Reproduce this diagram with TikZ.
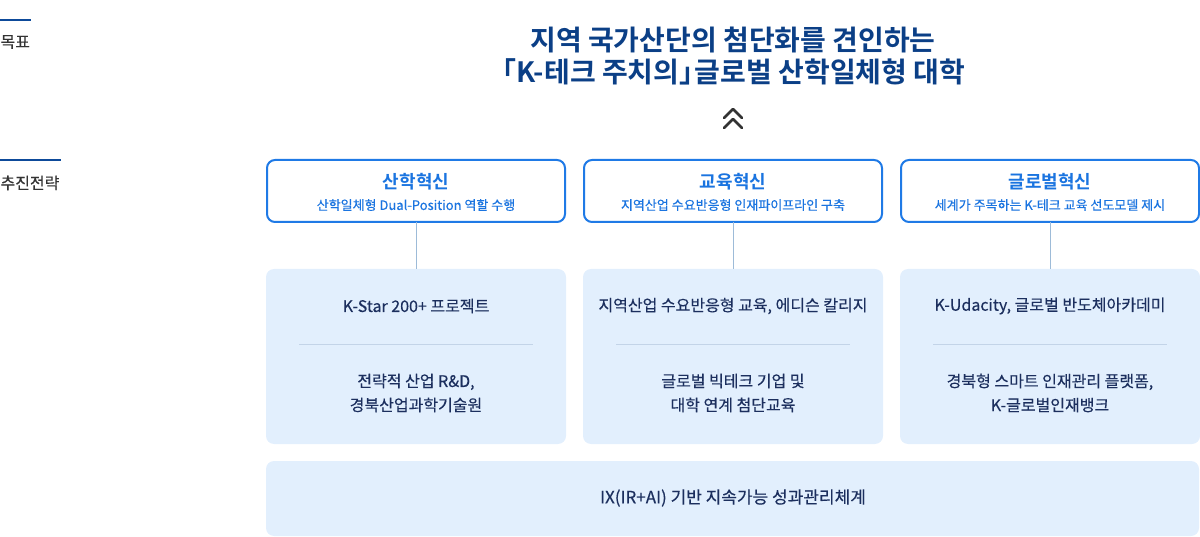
\documentclass[tikz,border=0pt]{standalone}
\usepackage{fontspec}
\setmainfont{Noto Sans CJK KR}
\newfontfamily\krb{Noto Sans CJK KR Bold}
\newfontfamily\krm[FakeBold=0.35]{Noto Sans CJK KR}
\definecolor{navy}{HTML}{0B3F86}
\definecolor{bordblue}{HTML}{1F7AE6}
\definecolor{headblue}{HTML}{1A74E0}
\definecolor{txtnavy}{HTML}{1C2F5E}
\definecolor{panel}{HTML}{E2EFFD}
\definecolor{divc}{HTML}{C3D4E8}
\definecolor{connc}{HTML}{9DBBD8}
\definecolor{lblgray}{HTML}{333333}
\definecolor{lineblue}{HTML}{0D4A9A}
\tikzset{
  x=1pt,y=-1pt,
  topbox/.style={draw=bordblue,line width=2pt,rounded corners=8pt,fill=white},
  panelbox/.style={fill=panel,rounded corners=8pt},
  head/.style={text=headblue,font=\krb\fontsize{18}{20}\selectfont},
  sub/.style={text=headblue,font=\krm\fontsize{13}{15}\selectfont},
  body/.style={text=txtnavy,font=\krm\fontsize{16}{24}\selectfont,align=center},
  lbl/.style={text=lblgray,font=\krm\fontsize{16}{18}\selectfont,anchor=west},
  conn/.style={draw=connc,line width=0.9pt},
  divl/.style={draw=divc,line width=0.8pt}
}
\begin{document}
\begin{tikzpicture}
\useasboundingbox (0,0) rectangle (1200,537);
% left labels
\draw[lineblue,line width=2pt] (0,20) -- (31,20);
\node[lbl] (goal) at (-3,42) {목표};
\draw[lineblue,line width=2pt] (0,160) -- (61,160);
\node[lbl] (strat) at (-3,183) {추진전략};
% title
\node[text=navy,font=\krb\fontsize{28}{32}\selectfont,align=center] (title) at (733,56) {지역 국가산단의 첨단화를 견인하는\\\mbox{\kern-.45em「K-테크 주치의」\kern-.45em글로벌 산학일체형 대학}};
% chevrons
\draw[draw=lblgray,line width=2.6pt,line cap=round,line join=round] (724,118) -- (733,109) -- (742,118);
\draw[draw=lblgray,line width=2.6pt,line cap=round,line join=round] (724,128) -- (733,119) -- (742,128);
% top boxes
\foreach \i/\x/\h/\s in {1/266/산학혁신/산학일체형 Dual-Position 역할 수행,2/583/교육혁신/지역산업 수요반응형 인재파이프라인 구축,3/900/글로벌혁신/세계가 주목하는 K-테크 교육 선도모델 제시}{
  \path[topbox] (\x+1,160) rectangle (\x+299,222);
  \coordinate (t\i) at (\x+150,222);
  \node[head] (h\i) at (\x+150,182) {\h};
  \node[sub] (s\i) at (\x+150,205) {\s};
  \path[panelbox] (\x,269) rectangle (\x+300,444);
  \coordinate (p\i) at (\x+150,269);
  \draw[divl] (\x+33,344) -- (\x+267,344);
}
\draw[conn] (t1) -- (p1);
\draw[conn] (t2) -- (p2);
\draw[conn] (t3) -- (p3);
% panel texts
\node[body] (a1) at (416,306) {K-Star 200+ 프로젝트};
\node[body] (b1) at (416,393) {전략적 산업 R\&D,\\경북산업과학기술원};
\node[body] (a2) at (733,306) {지역산업 수요반응형 교육, 에디슨 칼리지};
\node[body] (b2) at (733,393) {글로벌 빅테크 기업 및\\대학 연계 첨단교육};
\node[body] (a3) at (1050,306) {K-Udacity, 글로벌 반도체아카데미};
\node[body] (b3) at (1050,393) {경북형 스마트 인재관리 플랫폼,\\K-글로벌인재뱅크};
% bottom box
\path[panelbox] (266,461) rectangle (1199,536);
\node[body,font=\krm\fontsize{17}{24}\selectfont] (bot) at (733,498) {IX(IR+AI) 기반 지속가능 성과관리체계};
\end{tikzpicture}
\end{document}
